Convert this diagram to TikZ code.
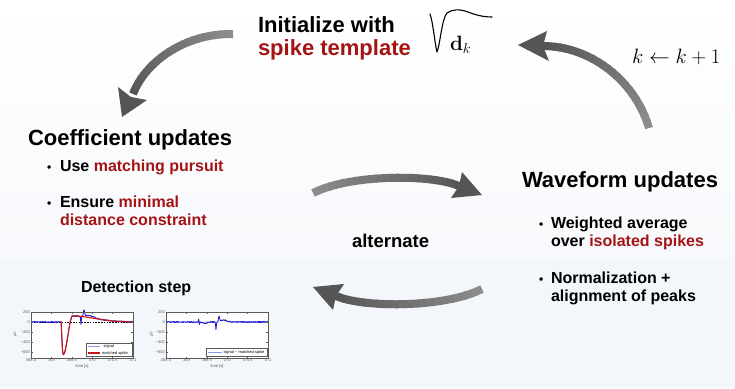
\documentclass[tikz,border=0pt]{standalone}
\usepackage[no-math]{fontspec}
\setmainfont{Liberation Sans}
\usetikzlibrary{calc}
\definecolor{dred}{RGB}{165,20,20}
\definecolor{bgmid}{RGB}{247,249,252}
\definecolor{bgbot}{RGB}{243,247,252}
\definecolor{arrL}{RGB}{140,140,140}
\definecolor{arrD}{RGB}{85,85,85}
\definecolor{sigblue}{RGB}{25,25,205}
\definecolor{lightblue}{RGB}{140,150,240}
\definecolor{msred}{RGB}{200,20,20}
\definecolor{axgray}{RGB}{90,90,90}

\newcommand\gradshaft[4]{%
  \foreach \i in {0,...,23}{%
    \pgfmathsetmacro\pa{\i/24}%
    \pgfmathsetmacro\pb{min((\i+1)/24+0.01,1)}%
    \pgfmathtruncatemacro\pc{100*\i/23}%
    \path (#1) .. controls (#2) and (#3) .. (#4) coordinate[pos=\pa] (gs) coordinate[pos=\pb] (ge);
    \draw[line width=8pt, line cap=butt, draw=arrD!\pc!arrL] (gs) -- (ge);
  }}

\begin{document}
\begin{tikzpicture}[x=1pt,y=-1pt,
  every node/.style={inner sep=0pt, outer sep=0pt},
  headtxt/.style={font=\fontsize{22}{26}\selectfont\bfseries, anchor=base west},
  bultxt/.style={font=\fontsize{16}{19}\selectfont\bfseries, anchor=base west},
  bulmark/.style={font=\fontsize{12}{14}\selectfont\bfseries, anchor=base west},
  ticklab/.style={font=\fontsize{4}{4.5}\selectfont, text=axgray},
  axisline/.style={draw=axgray, line width=0.4pt},
  arrowhead/.style={fill=arrD},
  declare function={
    bmp(\vv,\cc,\ww)=exp(0-(min(abs(\vv-\cc)/\ww,3))^2);
    redsp(\vv)=(\vv<0.74) ? 0 : ((\vv<0.79) ? (-650*sin(90*(\vv-0.74)/0.05)) : ((\vv<1.02) ? (-650+385*(1-cos(180*(\vv-0.79)/0.23))) : (120*exp(0-((\vv-1.02)/0.75)^2))));
    art(\vv)=-170*bmp(\vv,1.225,0.012)+130*bmp(\vv,1.30,0.02)+40*bmp(\vv,1.45,0.15);
    res(\vv)=50*bmp(\vv,0.80,0.008)-50*bmp(\vv,0.817,0.008)-25*bmp(\vv,0.95,0.08)-150*bmp(\vv,1.225,0.012)+110*bmp(\vv,1.30,0.02)+40*bmp(\vv,1.42,0.1);
  }]
\useasboundingbox (0,0) rectangle (735,388);
\shade[top color=white, bottom color=bgmid] (0,0) rectangle (735,258);
\fill[bgbot] (0,258) rectangle (735,388);
\pgfmathsetseed{11}

% ---------- texts ----------
\node[headtxt] (init1) at (258,32) {Initialize with};
\node[headtxt, text=dred] (init2) at (258,55) {spike template};
\node[anchor=base west, font=\fontsize{20}{24}\selectfont] (dk) at (450,50) {$\mathbf{d}_k$};
\node[anchor=base west, font=\fontsize{20}{24}\selectfont] (kinc) at (632,63) {$k \leftarrow k+1$};
\draw[line width=1.1pt, line cap=round, line join=round] (430,14) .. controls (433,22) and (435,45) .. (437,52)
  .. controls (440,45) and (442,18) .. (447,13) .. controls (452,9) and (460,9) .. (468,12)
  .. controls (476,15) and (483,17) .. (492,17);

\node[headtxt] (coef) at (28,145) {Coefficient updates};
\node[bulmark] (cb1) at (47,171) {•};
\node[bultxt] (ct1) at (60,171) {Use \textcolor{dred}{matching pursuit}};
\node[bulmark] (cb2) at (47,207) {•};
\node[bultxt] (ct2) at (60,207) {Ensure \textcolor{dred}{minimal}};
\node[bultxt, text=dred] (ct3) at (60,225) {distance constraint};

\node[headtxt] (wave) at (522,187) {Waveform updates};
\node[bulmark] (wb1) at (539,228) {•};
\node[bultxt] (wt1) at (551,228) {Weighted average};
\node[bultxt] (wt2) at (551,246) {over \textcolor{dred}{isolated spikes}};
\node[bulmark] (wb2) at (539,283) {•};
\node[bultxt] (wt3) at (551,283) {Normalization +};
\node[bultxt] (wt4) at (551,301) {alignment of peaks};

\node[anchor=base west, font=\fontsize{18.5}{22}\selectfont\bfseries] (alt) at (352,247) {alternate};
\node[anchor=base west, font=\fontsize{16}{19}\selectfont\bfseries] (det) at (81,292) {Detection step};

% ---------- arrows ----------
% init -> coefficient
\coordinate (a1t) at (233,34); \coordinate (a1c) at (185,33); \coordinate (a1d) at (145,62); \coordinate (a1b) at (133,94);
\gradshaft{a1t}{a1c}{a1d}{a1b}
\coordinate (a1tip) at (122,117); \coordinate (a1l) at (118,87); \coordinate (a1i) at (131,97); \coordinate (a1r) at (147,100);
\fill[arrowhead] (a1tip) -- (a1l) -- (a1i) -- (a1r) -- cycle;
% waveform -> init
\coordinate (a2t) at (649,128); \coordinate (a2c) at (635,80); \coordinate (a2d) at (590,46); \coordinate (a2b) at (543,46);
\gradshaft{a2t}{a2c}{a2d}{a2b}
\coordinate (a2tip) at (518,45); \coordinate (a2l) at (547,31); \coordinate (a2i) at (543,46); \coordinate (a2r) at (549,61);
\fill[arrowhead] (a2tip) -- (a2l) -- (a2i) -- (a2r) -- cycle;
% coefficient -> waveform
\coordinate (a3t) at (313,193); \coordinate (a3c) at (350,174); \coordinate (a3d) at (432,174); \coordinate (a3b) at (459,186);
\gradshaft{a3t}{a3c}{a3d}{a3b}
\coordinate (a3tip) at (482,195); \coordinate (a3l) at (462,172); \coordinate (a3i) at (459,186); \coordinate (a3r) at (451,198);
\fill[arrowhead] (a3tip) -- (a3l) -- (a3i) -- (a3r) -- cycle;
% waveform -> coefficient
\coordinate (a4t) at (482,289); \coordinate (a4c) at (445,308); \coordinate (a4d) at (363,308); \coordinate (a4b) at (336,296);
\gradshaft{a4t}{a4c}{a4d}{a4b}
\coordinate (a4tip) at (313,287); \coordinate (a4l) at (333,310); \coordinate (a4i) at (336,296); \coordinate (a4r) at (344,284);
\fill[arrowhead] (a4tip) -- (a4l) -- (a4i) -- (a4r) -- cycle;

% ---------- plot 1 ----------
\begin{scope}[shift={(31,322)}, x=40.8pt, y=0.05pt]
  \fill[white] (0,-720) rectangle (2.5,200);
  \draw[black, dash pattern=on 1.6pt off 1.2pt, line width=0.8pt] (0,0) -- (2.5,0);
  \draw[sigblue, line width=0.8pt, line join=round] plot[domain=0:2.5, samples=301] (\x,{redsp(\x)+art(\x)+12*rand});
  \draw[msred, line width=1.1pt, line join=round] plot[domain=0.70:2.5, samples=200] (\x,{redsp(\x)});
  \draw[axisline] (0,-720) rectangle (2.5,200);
  \foreach \xv/\xl [count=\n] in {0/368.5,0.5/369,1/369.5,1.5/370,2/370.5,2.5/371}{
    \draw[axisline] (\xv,-720) -- ++(0,30);
    \draw[axisline] (\xv,200) -- ++(0,-30);
    \node[ticklab, anchor=north] (p1x\n) at (\xv,-735) {\xl};
  }
  \foreach \yv/\yl [count=\n] in {200/200,0/0,-200/−200,-400/−400,-600/−600}{
    \draw[axisline] (0,\yv) -- ++(0.04,0);
    \draw[axisline] (2.5,\yv) -- ++(-0.04,0);
    \node[ticklab, anchor=east] (p1y\n) at (-0.03,\yv) {\yl};
  }
  \node[ticklab, anchor=north] (p1xl) at (1.25,-860) {time [s]};
  \node[ticklab, rotate=90] (p1yl) at (-0.39,-250) {µV};
  \draw[axisline, fill=white] (1.35,-690) rectangle (2.47,-430);
  \draw[lightblue, line width=0.5pt] (1.4,-490) -- (1.7,-490);
  \node[ticklab, anchor=west, text=black] (p1l1) at (1.78,-490) {signal};
  \draw[msred, line width=1.1pt] (1.4,-620) -- (1.7,-620);
  \node[ticklab, anchor=west, text=black] (p1l2) at (1.74,-620) {matched spike};
\end{scope}

% ---------- plot 2 ----------
\begin{scope}[shift={(166,322)}, x=40.8pt, y=0.05pt]
  \fill[white] (0,-720) rectangle (2.5,200);
  \draw[sigblue, line width=0.8pt, line join=round] plot[domain=0:2.5, samples=401] (\x,{res(\x)+12*rand});
  \draw[axisline] (0,-720) rectangle (2.5,200);
  \foreach \xv/\xl [count=\n] in {0/368.5,0.5/369,1/369.5,1.5/370,2/370.5,2.5/371}{
    \draw[axisline] (\xv,-720) -- ++(0,30);
    \draw[axisline] (\xv,200) -- ++(0,-30);
    \node[ticklab, anchor=north] (p2x\n) at (\xv,-735) {\xl};
  }
  \foreach \yv/\yl [count=\n] in {200/200,0/0,-200/−200,-400/−400,-600/−600}{
    \draw[axisline] (0,\yv) -- ++(0.04,0);
    \draw[axisline] (2.5,\yv) -- ++(-0.04,0);
    \node[ticklab, anchor=east] (p2y\n) at (-0.03,\yv) {\yl};
  }
  \node[ticklab, anchor=north] (p2xl) at (1.25,-860) {time [s]};
  \node[ticklab, rotate=90] (p2yl) at (-0.35,-250) {µV};
  \draw[axisline, fill=white] (0.98,-690) rectangle (2.47,-520);
  \draw[lightblue, line width=0.5pt] (1.03,-605) -- (1.37,-605);
  \node[ticklab, anchor=west, text=black] (p2l1) at (1.41,-605) {signal − matched spike};
\end{scope}
\end{tikzpicture}
\end{document}
